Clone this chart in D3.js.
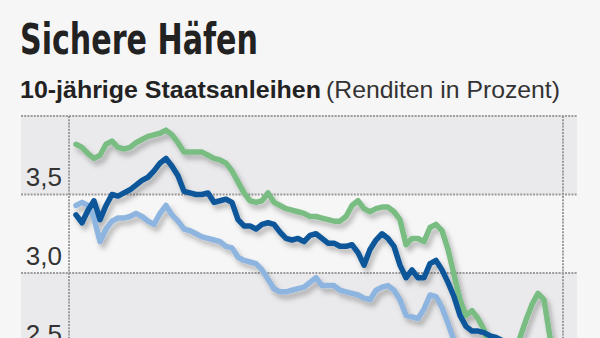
<!DOCTYPE html>
<html>
<head>
<meta charset="utf-8">
<script src="https://cdn.jsdelivr.net/npm/d3@7"></script>
<style>
  html, body { margin: 0; padding: 0; background: #f6f6f6; }
  svg { display: block; }
</style>
</head>
<body>
<svg id="chart" width="600" height="338"></svg>
<script>
// ---- Data (10-year government bond yields, percent) ----
const title = "Sichere Häfen";
const subtitleBold = "10-jährige Staatsanleihen";
const subtitleRegular = "(Renditen in Prozent)";

const yTicks = [2.5, 3.0, 3.5];
const yTickLabels = ["2,5", "3,0", "3,5"];

const seriesGreen = [
  3.82, 3.80, 3.76, 3.73, 3.75, 3.82, 3.84, 3.80, 3.79, 3.80,
  3.83, 3.85, 3.87, 3.88, 3.89, 3.91, 3.88, 3.83, 3.77, 3.77,
  3.77, 3.77, 3.75, 3.73, 3.72, 3.70, 3.65, 3.58, 3.51, 3.46,
  3.45, 3.46, 3.51, 3.45, 3.43, 3.41, 3.40, 3.39, 3.38, 3.36,
  3.36, 3.35, 3.34, 3.33, 3.33, 3.36, 3.43, 3.46, 3.41, 3.39,
  3.41, 3.42, 3.42, 3.39, 3.34, 3.18, 3.22, 3.22, 3.20, 3.29,
  3.31, 3.27, 3.15, 2.99, 2.83, 2.73, 2.76, 2.71, 2.64, 2.51,
  2.43, 2.40, 2.41, 2.48, 2.59, 2.70, 2.80, 2.87, 2.83, 2.59,
  2.45
];
const seriesDarkBlue = [
  3.37, 3.32, 3.40, 3.46, 3.34, 3.43, 3.50, 3.49, 3.51, 3.53,
  3.56, 3.59, 3.61, 3.65, 3.70, 3.73, 3.68, 3.62, 3.52, 3.51,
  3.50, 3.50, 3.51, 3.45, 3.46, 3.47, 3.45, 3.34, 3.30, 3.30,
  3.28, 3.31, 3.32, 3.31, 3.26, 3.22, 3.21, 3.22, 3.20, 3.24,
  3.25, 3.22, 3.19, 3.19, 3.17, 3.17, 3.18, 3.13, 3.05, 3.15,
  3.21, 3.25, 3.22, 3.17, 3.05, 2.97, 3.02, 2.97, 2.97, 3.06,
  3.08, 3.02, 2.94, 2.85, 2.73, 2.66, 2.63, 2.63, 2.62, 2.60,
  2.59, 2.57, 2.52, 2.48, 2.45, 2.43, 2.41, 2.40, 2.39, 2.40,
  2.38
];
const seriesLightBlue = [
  3.43, 3.45, 3.43, 3.35, 3.20, 3.28, 3.33, 3.35, 3.35, 3.36,
  3.38, 3.36, 3.33, 3.31, 3.38, 3.43, 3.37, 3.33, 3.28, 3.27,
  3.25, 3.23, 3.22, 3.21, 3.20, 3.17, 3.16, 3.10, 3.08, 3.07,
  3.06, 3.02, 2.96, 2.90, 2.88, 2.88, 2.89, 2.90, 2.91, 2.94,
  2.97, 2.92, 2.92, 2.92, 2.89, 2.88, 2.87, 2.86, 2.84, 2.83,
  2.89, 2.91, 2.92, 2.89, 2.83, 2.73, 2.72, 2.71, 2.77, 2.86,
  2.85, 2.78, 2.68, 2.57, 2.50, 2.45, 2.41, 2.38, 2.36, 2.35,
  2.33, 2.32, 2.30, 2.28, 2.27, 2.28, 2.30, 2.29, 2.27, 2.25,
  2.24
];
const seriesColors = { green: "#79bd83", darkBlue: "#0b5699", lightBlue: "#8db5e0" };

// ---- Layout ----
const svg = d3.select("#chart");
const W = 600, H = 338;
const plotLeft = 69, plotRight = 563;
const gridLeft = 21, gridRight = 577;

const periods = d3.range(seriesGreen.length);
const x = d3.scaleLinear().domain([0, periods.length - 1]).range([76, 556]);
const y = d3.scaleLinear().domain([2.5, 4.0]).range([351.5, 116]);

svg.append("rect").attr("width", W).attr("height", H).attr("fill", "#f6f6f6");

// drop shadow filter
const defs = svg.append("defs");
const f = defs.append("filter").attr("id", "shadow")
  .attr("x", "-10%").attr("y", "-10%").attr("width", "130%").attr("height", "140%");
f.append("feDropShadow").attr("dx", 3).attr("dy", 4.5).attr("stdDeviation", 2.5)
  .attr("flood-color", "#000").attr("flood-opacity", 0.26);

// Bands (gray between 3.5–4.0 and 2.5–3.0)
const bands = [[3.5, 4.0], [2.5, 3.0]];
svg.append("g").selectAll("rect").data(bands).join("rect")
  .attr("x", gridLeft).attr("width", gridRight - gridLeft)
  .attr("y", d => y(d[1])).attr("height", d => y(d[0]) - y(d[1]))
  .attr("fill", "#eaeaec");

// Horizontal dotted gridlines
const gridVals = [4.0].concat(yTicks);
svg.append("g").selectAll("line").data(gridVals).join("line")
  .attr("x1", gridLeft).attr("x2", gridRight)
  .attr("y1", d => y(d)).attr("y2", d => y(d))
  .attr("stroke", "#9c9c9c").attr("stroke-width", 2).attr("stroke-dasharray", "2,1.2");

// Vertical dotted lines
svg.append("g").selectAll("line").data([plotLeft, plotRight]).join("line")
  .attr("x1", d => d).attr("x2", d => d)
  .attr("y1", y(4.0)).attr("y2", H)
  .attr("stroke", "#9c9c9c").attr("stroke-width", 2).attr("stroke-dasharray", "2,1.2");

// Y axis labels
const yAxis = d3.axisLeft(y).tickValues(yTicks)
  .tickFormat((d, i) => yTickLabels[i]).tickSize(0).tickPadding(0);
const gy = svg.append("g").attr("transform", "translate(62,0)").call(yAxis);
gy.select(".domain").remove();
gy.selectAll("text")
  .attr("dy", "-9px")
  .attr("font-family", "'Liberation Sans', Arial, sans-serif")
  .attr("font-size", 26).attr("fill", "#333")
  .attr("dominant-baseline", "auto");

// Lines
const line = d3.line().x((d, i) => x(periods[i])).y(d => y(d)).curve(d3.curveLinear);
const seriesList = [
  { values: seriesLightBlue, color: seriesColors.lightBlue },
  { values: seriesGreen, color: seriesColors.green },
  { values: seriesDarkBlue, color: seriesColors.darkBlue }
];
svg.append("g").attr("filter", "url(#shadow)")
  .selectAll("path").data(seriesList).join("path")
  .attr("d", d => line(d.values))
  .attr("fill", "none").attr("stroke", d => d.color)
  .attr("stroke-width", 5.5).attr("stroke-linejoin", "round").attr("stroke-linecap", "round");

// Title
svg.append("text").attr("x", 20).attr("y", 53.5)
  .attr("font-family", "'Liberation Sans Narrow', 'DejaVu Sans Condensed', 'Liberation Sans', sans-serif")
  .attr("font-weight", "bold").attr("font-size", 42).attr("fill", "#222")
  .attr("textLength", 238).attr("lengthAdjust", "spacingAndGlyphs")
  .text(title);

// Subtitle
svg.append("text").attr("x", 20).attr("y", 97.5)
  .attr("font-family", "'Liberation Sans', Arial, sans-serif")
  .attr("font-weight", "bold").attr("font-size", 24).attr("fill", "#222")
  .attr("textLength", 301).attr("lengthAdjust", "spacingAndGlyphs")
  .text(subtitleBold);
svg.append("text").attr("x", 326).attr("y", 97.5)
  .attr("font-family", "'Liberation Sans', Arial, sans-serif")
  .attr("font-size", 24).attr("fill", "#333")
  .attr("textLength", 234).attr("lengthAdjust", "spacingAndGlyphs")
  .text(subtitleRegular);
</script>
</body>
</html>
